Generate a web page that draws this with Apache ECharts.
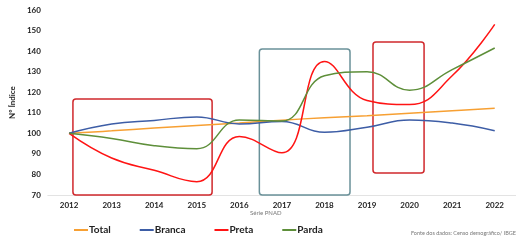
<!DOCTYPE html>
<html>
<head>
<meta charset="utf-8">
<script src="https://cdn.jsdelivr.net/npm/echarts@6/dist/echarts.min.js"></script>
<style>
  html, body { margin: 0; padding: 0; background: #fff; }
  #chart { width: 516px; height: 242px; }
</style>
</head>
<body>
<div id="chart"></div>
<script>
var years = ['2012', '2013', '2014', '2015', '2016', '2017', '2018', '2019', '2020', '2021', '2022'];
var total  = [100, 101.2, 102.6, 103.8, 105, 106.4, 107.6, 108.6, 109.8, 111, 112.2];
var branca = [100, 104.5, 106.3, 108, 104.6, 105.8, 100.5, 103, 106.5, 105, 101.3];
var preta  = [100, 88, 82, 76.5, 98.5, 90.5, 135, 116, 114, 128, 153];
var parda  = [100, 97.5, 94, 92.5, 106.5, 106, 128, 130, 121, 131, 141.5];
// highlight boxes: [year from, value bottom, year to, value top]
var boxesRed = [[2012.09, 70, 2015.36, 116.7], [2019.14, 80.7, 2020.34, 144.4]];
var boxesTeal = [[2016.47, 70, 2018.6, 141]];

var chart = echarts.init(document.getElementById('chart'));
var bold = { fontFamily: 'Lato', fontWeight: 'bold', fontSize: 8, color: '#222' };

function boxSeries(name, data, color) {
    return {
        name: name,
        type: 'custom',
        xAxisIndex: 1,
        yAxisIndex: 0,
        clip: false,
        silent: true,
        data: data,
        renderItem: function (params, api) {
            var p0 = api.coord([api.value(0), api.value(3)]);
            var p1 = api.coord([api.value(2), api.value(1)]);
            return {
                type: 'rect',
                shape: { x: p0[0], y: p0[1], width: p1[0] - p0[0], height: p1[1] - p0[1], r: 3 },
                style: { fill: null, stroke: color, lineWidth: 1.5 }
            };
        }
    };
}

function lineSeries(name, data, color) {
    return {
        name: name,
        type: 'line',
        data: data,
        smooth: 0.45,
        symbol: 'none',
        lineStyle: { color: color, width: 1.5 },
        itemStyle: { color: color }
    };
}

var option = {
    animation: false,
    grid: { left: 38, top: 10, width: 484, bottom: 47 },
    legend: {
        bottom: 2,
        left: 69,
        itemGap: 29,
        itemWidth: 14,
        itemHeight: 2,
        icon: 'rect',
        data: ['Total', 'Branca', 'Preta', 'Parda'],
        textStyle: { fontFamily: 'Lato', fontWeight: 'bold', fontSize: 10, color: '#222', padding: [0, 0, 0, -4] }
    },
    xAxis: [{
        type: 'category',
        data: years,
        boundaryGap: true,
        axisLine: { lineStyle: { color: '#e3e3e3' } },
        axisTick: { show: false },
        axisLabel: Object.assign({ margin: 6 }, bold)
    }, {
        type: 'value',
        min: 2011.5,
        max: 2022.5,
        show: false
    }],
    yAxis: {
        type: 'value',
        min: 70,
        max: 160,
        interval: 10,
        name: 'Nº Índice',
        nameLocation: 'middle',
        nameGap: 22,
        nameTextStyle: bold,
        axisLine: { show: false },
        axisTick: { show: false },
        splitLine: { show: false },
        axisLabel: Object.assign({ margin: 7 }, bold)
    },
    graphic: [
        { type: 'text', left: 250, top: 210, style: { text: 'Série PNAD', fontFamily: 'Lato', fontSize: 6, fill: '#777' } },
        { type: 'text', right: 0, top: 230, style: { text: 'Fonte dos dados: Censo demográfico/ IBGE', fontFamily: 'Lato', fontSize: 5.5, fill: '#777' } }
    ],
    series: [
        lineSeries('Total', total, '#F7A033'),
        lineSeries('Branca', branca, '#3D5DA6'),
        lineSeries('Preta', preta, '#FF1414'),
        lineSeries('Parda', parda, '#5E8F3A'),
        boxSeries('boxRed', boxesRed, '#D0282C'),
        boxSeries('boxTeal', boxesTeal, '#6A9199')
    ]
};
chart.setOption(option);
</script>
</body>
</html>
